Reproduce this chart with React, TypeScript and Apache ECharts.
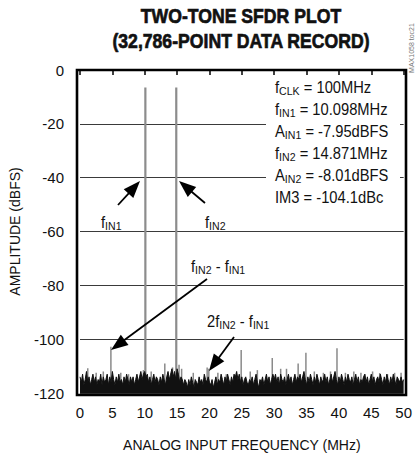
import React, { useEffect, useRef } from 'react';
import * as echarts from 'echarts';

// ---- data ----
const xTickValues = [0, 5, 10, 15, 20, 25, 30, 35, 40, 45, 50];
const yTickValues = [-120, -100, -80, -60, -40, -20, 0];
const noiseStepMHz = 0.2;
const noiseFloor = [
  -114, -116, -113, -117, -115, -112, -116, -114, -117, -115,
  -113, -116, -114, -117, -115, -116, -113, -117, -114, -116,
  -115, -113, -117, -114, -116, -112, -115, -117, -114, -116,
  -113, -116, -115, -117, -114, -116, -113, -115, -117, -114,
  -116, -114, -117, -115, -113, -116, -114, -112, -115, -113,
  -112, -114, -113, -116, -114, -117, -115, -113, -116, -114,
  -115, -117, -114, -116, -113, -115, -117, -114, -112, -115,
  -113, -111, -114, -112, -115, -111, -113, -116, -114, -115,
  -117, -115, -116, -118, -115, -117, -114, -116, -118, -115,
  -116, -117, -114, -116, -115, -117, -113, -115, -116, -114,
  -116, -117, -115, -118, -116, -114, -117, -115, -116, -113,
  -115, -117, -114, -116, -113, -115, -117, -114, -116, -113,
  -114, -112, -115, -113, -116, -114, -117, -115, -114, -116,
  -117, -115, -116, -114, -117, -115, -113, -116, -118, -115,
  -116, -114, -117, -115, -113, -116, -114, -117, -115, -113,
  -115, -113, -116, -114, -117, -113, -115, -116, -114, -117,
  -115, -113, -116, -114, -117, -115, -113, -116, -114, -115,
  -113, -116, -114, -112, -115, -117, -114, -116, -113, -115,
  -117, -114, -116, -113, -115, -117, -114, -116, -115, -113,
  -116, -114, -117, -115, -113, -116, -114, -112, -115, -117,
  -114, -116, -113, -115, -117, -114, -116, -113, -115, -116,
  -114, -117, -115, -113, -116, -114, -117, -115, -116, -114,
  -113, -116, -114, -117, -115, -113, -116, -114, -117, -115,
  -114, -116, -113, -115, -117, -114, -116, -113, -115, -117,
  -114, -116, -113, -115, -117, -114, -115, -116, -114, -116, -115,
];
const toneFreqs = [10.098, 14.871];
const toneLevels = [-6.5, -6.5];
const spurFreqs = [
  1.2, 2.5, 3.6, 4.773, 6.3, 7.5, 9.8, 11.0, 13.1, 14.3, 15.3, 15.7, 17.5,
  19.644, 19.9, 21.3, 22.6, 24.9, 26.3, 27.4, 29.7, 31.0, 31.9, 33.7, 34.9,
  36.2, 37.6, 38.7, 39.7, 41.0, 42.3, 43.4, 44.0, 45.2, 46.3, 47.5, 48.6, 49.6,
];
const spurLevels = [
  -110.8, -112.5, -112, -102.8, -112.5, -113, -111.5, -112, -109, -110.5, -109.5, -111, -112.5,
  -110.5, -111, -112.5, -113, -104, -112, -111.5, -107, -111, -111, -109, -105,
  -112, -112.5, -112, -103.4, -112.5, -112, -112.5, -113, -112, -112.6, -113, -112.5, -112.5,
];

const FONT = "'Liberation Sans Narrow', 'Arial Narrow', 'Liberation Sans', sans-serif";

const annotationLines = [
  'f{s|CLK}{n| = 100MHz}',
  'f{s|IN1}{n| = 10.098MHz}',
  'A{s|IN1}{n| = -7.95dBFS}',
  'f{s|IN2}{n| = 14.871MHz}',
  'A{s|IN2}{n| = -8.01dBFS}',
  'IM3{n| = -104.1dBc}',
];

function richStyle(size: number, lh: number) {
  const sl = Math.round(size * 0.85);
  return {
    n: { fontSize: size, lineHeight: lh, fontFamily: FONT, fill: '#111' },
    s: { fontSize: size * 0.72, lineHeight: sl, padding: [lh - sl, 0, 0, 0], fontFamily: FONT, fill: '#111' },
  };
}

function label(x: number, y: number, text: string, size = 16, lh = 22, sx = 0.92) {
  return {
    type: 'text',
    x,
    y,
    scaleX: sx,
    z: 110,
    style: {
      text,
      fontSize: size,
      fontFamily: FONT,
      fill: '#111',
      lineHeight: lh,
      rich: richStyle(size, lh),
      align: 'left',
      textAlign: 'left',
      verticalAlign: 'middle',
      textVerticalAlign: 'middle',
    },
  };
}

function arrow(x1: number, y1: number, x2: number, y2: number) {
  const dx = x2 - x1;
  const dy = y2 - y1;
  const len = Math.sqrt(dx * dx + dy * dy);
  const ux = dx / len;
  const uy = dy / len;
  const hl = 17;
  const hw = 6.5;
  const bx = x2 - ux * hl;
  const by = y2 - uy * hl;
  return [
    {
      type: 'line',
      z: 110,
      shape: { x1, y1, x2: bx + ux * 2, y2: by + uy * 2 },
      style: { stroke: '#000', lineWidth: 1.8 },
    },
    {
      type: 'polygon',
      z: 110,
      shape: {
        points: [
          [x2, y2],
          [bx - uy * hw, by + ux * hw],
          [bx + uy * hw, by - ux * hw],
        ],
      },
      style: { fill: '#000' },
    },
  ];
}

function titleLine(y: number, text: string) {
  return {
    type: 'text',
    x: 241,
    y,
    scaleX: 0.84,
    z: 110,
    style: {
      text,
      fontFamily: FONT,
      fontWeight: 'bold',
      fontSize: 21,
      fill: '#111',
      stroke: '#111',
      lineWidth: 0.7,
      align: 'center',
      textAlign: 'center',
      verticalAlign: 'middle',
      textVerticalAlign: 'middle',
    },
  };
}

const GRID = { left: 77, top: 70, width: 329, height: 325 };

export default function App() {
  const ref = useRef<HTMLDivElement>(null);
  useEffect(() => {
    if (!ref.current) return;
    const chart = echarts.init(ref.current, undefined, { renderer: 'svg' });
    const spikeRender = (color: string, width: number) => (params: any, api: any) => {
      const f = api.value(0);
      const v = api.value(1);
      const p1 = api.coord([f, yTickValues[0]]);
      const p2 = api.coord([f, v]);
      return {
        type: 'line',
        shape: { x1: p1[0], y1: p1[1], x2: p2[0], y2: p2[1] },
        style: { stroke: color, lineWidth: width },
      };
    };
    const option: any = {
      animation: false,
      backgroundColor: '#fff',
      grid: { left: GRID.left, top: GRID.top, width: GRID.width, height: GRID.height, show: false },
      xAxis: {
        type: 'value',
        min: xTickValues[0],
        max: xTickValues[xTickValues.length - 1],
        interval: xTickValues[1] - xTickValues[0],
        name: 'ANALOG INPUT FREQUENCY (MHz)',
        nameLocation: 'middle',
        nameGap: 45,
        nameTextStyle: { fontFamily: FONT, fontSize: 14, color: '#111' },
        axisLine: { show: false },
        axisTick: { show: true, length: 5, lineStyle: { color: '#000', width: 1.5 } },
        axisLabel: { fontFamily: FONT, fontSize: 15, color: '#111', margin: 12 },
        splitLine: { show: false },
      },
      yAxis: {
        type: 'value',
        min: yTickValues[0],
        max: yTickValues[yTickValues.length - 1],
        interval: yTickValues[1] - yTickValues[0],
        name: 'AMPLITUDE (dBFS)',
        nameLocation: 'middle',
        nameGap: 58,
        nameTextStyle: { fontFamily: FONT, fontSize: 14, color: '#111' },
        axisLine: { show: false },
        axisTick: { show: false },
        axisLabel: { fontFamily: FONT, fontSize: 15, color: '#111', margin: 16 },
        splitLine: { show: true, lineStyle: { color: '#3a3a3a', width: 1.2 } },
      },
      series: [
        {
          type: 'custom',
          name: 'spurs',
          renderItem: spikeRender('#8a8a8a', 1.5),
          data: spurFreqs.map((f, i) => [f, spurLevels[i]]),
          z: 2,
        },
        {
          type: 'custom',
          name: 'tones',
          renderItem: spikeRender('#8c8c8c', 2.2),
          data: toneFreqs.map((f, i) => [f, toneLevels[i]]),
          z: 2,
        },
        {
          type: 'line',
          name: 'noise',
          symbol: 'none',
          z: 3,
          lineStyle: { color: '#111', width: 1 },
          areaStyle: { color: '#111', opacity: 1, origin: 'start' },
          data: noiseFloor.map((v, i) => [i * noiseStepMHz, v]),
        },
      ],
      graphic: [
        titleLine(15, 'TWO-TONE SFDR PLOT'),
        titleLine(40, '(32,786-POINT DATA RECORD)'),
        {
          type: 'text',
          x: 411,
          y: 48,
          rotation: Math.PI / 2,
          z: 110,
          style: {
            text: 'MAX1058 toc21',
            fontFamily: FONT,
            fontSize: 7,
            fill: '#777',
            align: 'center',
            textAlign: 'center',
            verticalAlign: 'middle',
            textVerticalAlign: 'middle',
          },
        },
        {
          type: 'rect',
          z: 105,
          shape: { x: 266, y: 76, width: 134, height: 134 },
          style: { fill: '#fff' },
        },
        {
          type: 'rect',
          z: 120,
          shape: { x: GRID.left, y: GRID.top, width: GRID.width, height: GRID.height },
          style: { fill: 'none', stroke: '#000', lineWidth: 2.6 },
        },
        label(275, 142, annotationLines.join('\n')),
        label(101, 222, 'f{s|IN1}'),
        label(205, 222, 'f{s|IN2}'),
        label(191, 266, 'f{s|IN2}{n| - }f{s|IN1}'),
        label(207, 321, '2f{s|IN2}{n| - }f{s|IN1}'),
        ...arrow(118, 205, 140, 181),
        ...arrow(205, 203, 179, 181),
        ...arrow(207, 279, 111, 350),
        ...arrow(234, 337, 209, 371),
      ],
    };
    chart.setOption(option);
    return () => chart.dispose();
  }, []);
  return (
    <div
      ref={ref}
      style={{ position: 'fixed', left: 0, top: 0, width: 415, height: 457, background: '#fff' }}
    />
  );
}
